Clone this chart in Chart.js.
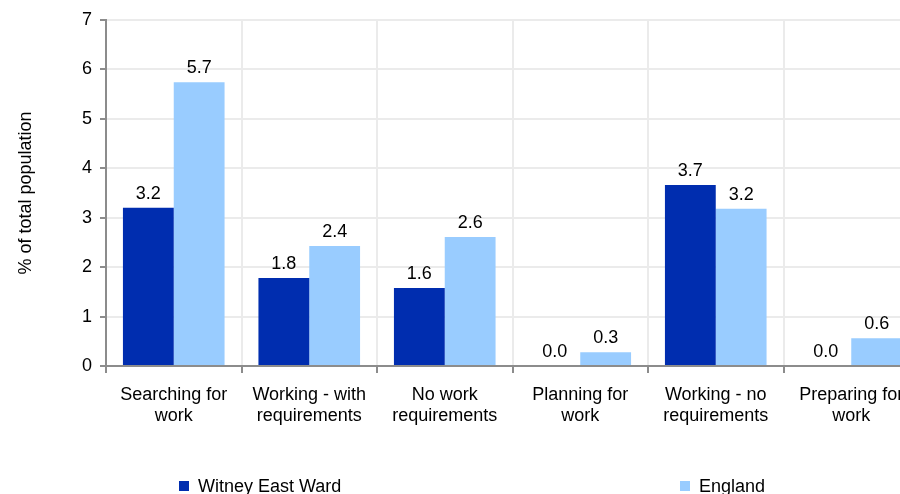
<!DOCTYPE html>
<html>
<head>
<meta charset="utf-8">
<script src="https://cdn.jsdelivr.net/npm/chart.js@4/dist/chart.umd.min.js"></script>
<style>
  html, body { margin: 0; padding: 0; background: #fff; overflow: hidden; }
  #wrap { position: relative; width: 930px; height: 494px; }
</style>
</head>
<body>
<div id="wrap"><canvas id="myChart"></canvas></div>
<script>
const categories = [
    ['Searching for', 'work'],
    ['Working - with', 'requirements'],
    ['No work', 'requirements'],
    ['Planning for', 'work'],
    ['Working - no', 'requirements'],
    ['Preparing for', 'work'],
];
const witneyValues = [3.2, 1.78, 1.58, 0, 3.66, 0];
const englandValues = [5.74, 2.43, 2.61, 0.28, 3.18, 0.56];
const yTicks = [0, 1, 2, 3, 4, 5, 6, 7];

const FONT = '"Liberation Sans", Arial, sans-serif';
const FSIZE = 18;

// values above bars
const valueLabels = {
    id: 'valueLabels',
    afterDatasetsDraw(chart) {
        const ctx = chart.ctx;
        ctx.save();
        ctx.font = FSIZE + 'px ' + FONT;
        ctx.fillStyle = '#000';
        ctx.textAlign = 'center';
        ctx.textBaseline = 'bottom';
        chart.data.datasets.forEach(function(ds, i) {
            chart.getDatasetMeta(i).data.forEach(function(bar, j) {
                ctx.fillText(ds.data[j].toFixed(1), bar.x, bar.y - 5);
            });
        });
        ctx.restore();
    }
};

// legend spread over two columns
const spreadLegend = {
    id: 'spreadLegend',
    afterDraw(chart) {
        const ctx = chart.ctx;
        const xs = [179, 680];
        ctx.save();
        ctx.font = FSIZE + 'px ' + FONT;
        ctx.textBaseline = 'middle';
        ctx.textAlign = 'left';
        chart.data.datasets.forEach(function(ds, i) {
            ctx.fillStyle = ds.backgroundColor;
            ctx.fillRect(xs[i], 481, 10, 10);
            ctx.fillStyle = '#000';
            ctx.fillText(ds.label, xs[i] + 19, 487);
        });
        ctx.restore();
    }
};

const data = {
    labels: categories,
    datasets: [{
        label: 'Witney East Ward',
        backgroundColor: '#002DAF',
        data: witneyValues,
    }, {
        label: 'England',
        backgroundColor: '#99CCFF',
        data: englandValues,
    }]
};

const config = {
    type: 'bar',
    data: data,
    options: {
        responsive: true,
        maintainAspectRatio: false,
        animation: false,
        layout: { padding: { top: 20, right: 11, bottom: 0, left: 0 } },
        categoryPercentage: 0.75,
        barPercentage: 1.0,
        plugins: {
            legend: { display: false },
            tooltip: { enabled: false },
        },
        scales: {
            x: {
                grid: {
                    color: '#ebebeb',
                    lineWidth: 2,
                    tickColor: '#8c8c8c',
                    tickLength: 7,
                    offset: true,
                },
                border: { color: '#8c8c8c', width: 2 },
                ticks: {
                    color: '#000',
                    font: { family: FONT, size: FSIZE, lineHeight: 1.15 },
                    padding: 12,
                    maxRotation: 0,
                    autoSkip: false,
                },
                afterFit(scale) { scale.height = 128; },
            },
            y: {
                min: 0,
                max: 7,
                afterBuildTicks(scale) {
                    scale.ticks = yTicks.map(function(v) { return { value: v }; });
                },
                grid: {
                    color: '#ebebeb',
                    lineWidth: 2,
                    tickColor: '#8c8c8c',
                    tickLength: 6,
                },
                border: { color: '#8c8c8c', width: 2 },
                ticks: {
                    color: '#000',
                    font: { family: FONT, size: FSIZE },
                    padding: 8,
                },
                title: {
                    display: true,
                    text: '% of total population',
                    color: '#000',
                    font: { family: FONT, size: FSIZE },
                    padding: { top: 15, bottom: 0 },
                },
                afterFit(scale) { scale.width = 106; },
            }
        }
    },
    plugins: [valueLabels, spreadLegend]
};

const myChart = new Chart(
    document.getElementById('myChart'),
    config
);
</script>
</body>
</html>
